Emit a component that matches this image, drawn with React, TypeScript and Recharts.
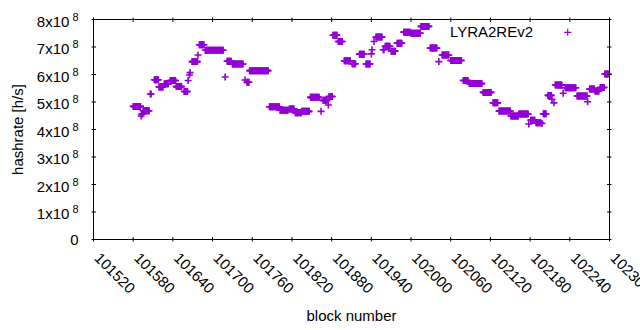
import React from 'react';
import { ScatterChart, Scatter, XAxis, YAxis, Legend } from 'recharts';

const seriesName = 'LYRA2REv2';
const COLOR = '#9400d3';
const FONT = "'Liberation Sans', Arial, sans-serif";

// runs of consecutive blocks that share the same hashrate (value in units of 1e8 h/s)
const runStart = [
  101580, 101592, 101593, 101595, 101606, 101612, 101619, 101627, 101636, 101645,
  101657, 101663, 101665, 101666, 101669, 101678, 101680, 101689, 101719, 101722,
  101730, 101749, 101752, 101756, 101786, 101802, 101816, 101825, 101835, 101848,
  101864, 101867, 101875, 101876, 101882, 101890, 101899, 101911, 101922, 101932,
  101940, 101941, 101944, 101947, 101958, 101961, 101970, 101979, 101989, 102000,
  102015, 102029, 102042, 102047, 102060, 102079, 102088, 102109, 102124, 102133,
  102151, 102163, 102178, 102181, 102189, 102198, 102200, 102207, 102213, 102216,
  102218, 102230, 102233, 102251, 102267, 102270, 102278, 102286, 102293,
];
const runEnd = [
  101591, 101592, 101594, 101604, 101607, 101618, 101625, 101633, 101644, 101653,
  101662, 101663, 101665, 101666, 101677, 101678, 101687, 101716, 101719, 101728,
  101746, 101749, 101755, 101784, 101801, 101814, 101823, 101834, 101846, 101861,
  101864, 101873, 101875, 101881, 101888, 101896, 101908, 101916, 101929, 101938,
  101940, 101941, 101944, 101956, 101959, 101968, 101976, 101986, 101999, 102014,
  102027, 102039, 102042, 102057, 102076, 102086, 102107, 102121, 102131, 102150,
  102162, 102177, 102178, 102187, 102196, 102198, 102204, 102212, 102213, 102216,
  102228, 102230, 102249, 102266, 102267, 102277, 102284, 102292, 102298,
];
const runValue = [
  4.84, 4.49, 4.56, 4.68, 5.29, 5.81, 5.55, 5.66, 5.78, 5.56,
  5.38, 5.78, 5.98, 6.07, 6.47, 6.71, 7.08, 6.88, 5.91, 6.48,
  6.38, 5.80, 5.72, 6.14, 4.83, 4.70, 4.75, 4.61, 4.66, 5.17,
  4.66, 5.06, 4.89, 5.20, 7.43, 7.20, 6.50, 6.39, 6.74, 6.38,
  6.75, 6.90, 7.20, 7.36, 6.90, 7.03, 6.85, 7.14, 7.54, 7.50,
  7.75, 6.96, 6.47, 6.71, 6.51, 5.78, 5.67, 5.35, 4.97, 4.67,
  4.49, 4.56, 4.20, 4.34, 4.25, 4.22, 4.57, 5.24, 5.10, 4.97,
  5.62, 5.32, 5.52, 5.22, 5.01, 5.47, 5.40, 5.53, 6.02,
];

const xTicks = [101520, 101580, 101640, 101700, 101760, 101820, 101880, 101940, 102000, 102060, 102120, 102180, 102240, 102300];
const yTicks = [0, 1e8, 2e8, 3e8, 4e8, 5e8, 6e8, 7e8, 8e8];
const yExponent = 8;

const data: { block: number; hashrate: number }[] = [];
runStart.forEach((s, i) => {
  for (let b = s; b <= runEnd[i]; b++) data.push({ block: b, hashrate: runValue[i] * 1e8 });
});

const TICK_LEN = 4.5;

const BottomTick = (props: any) => {
  const { x, y, payload } = props;
  const ly = y + 17.5;
  return (
    <g>
      <line x1={x} x2={x} y1={y} y2={y - TICK_LEN} stroke="#000" strokeWidth={1} />
      <text x={x} y={ly} transform={`rotate(45, ${x}, ${ly})`} textAnchor="start" fontFamily={FONT} fontSize={15} fill="#000">
        {payload.value}
      </text>
    </g>
  );
};

const TopTick = (props: any) => {
  const { x, y } = props;
  return <line x1={x} x2={x} y1={y} y2={y + TICK_LEN} stroke="#000" strokeWidth={1} />;
};

const LeftTick = (props: any) => {
  const { x, y, payload } = props;
  const m = Math.round(payload.value / Math.pow(10, yExponent));
  return (
    <g>
      <line x1={x} x2={x + TICK_LEN} y1={y} y2={y} stroke="#000" strokeWidth={1} />
      {m === 0 ? (
        <text x={x - 13} y={y + 5.3} textAnchor="end" fontFamily={FONT} fontSize={15} fill="#000">0</text>
      ) : (
        <text x={x - 13} y={y + 7} textAnchor="end" fontFamily={FONT} fontSize={15} fill="#000">
          {`${m}x10`}
          <tspan dx={3} dy={-6} fontSize={11}>{yExponent}</tspan>
        </text>
      )}
    </g>
  );
};

const RightTick = (props: any) => {
  const { x, y } = props;
  return <line x1={x} x2={x - TICK_LEN} y1={y} y2={y} stroke="#000" strokeWidth={1} />;
};

const PlusShape = (props: any) => {
  const { cx, cy } = props;
  if (cx == null || cy == null) return <g />;
  return <path d={`M${cx - 3.5},${cy}h7M${cx},${cy - 3.5}v7`} stroke={COLOR} strokeWidth={1.6} fill="none" />;
};

const NoShape = () => <g />;

const LegendContent = (props: any) => {
  const items = (props.payload || []).filter((it: any) => it.type !== 'none');
  const name = items.length ? items[0].value : seriesName;
  return (
    <svg width={140} height={24} style={{ display: 'block', overflow: 'visible' }}>
      <text x={93} y={19.3} textAnchor="end" fontFamily={FONT} fontSize={15} fill="#000">{name}</text>
      <path d="M124.2,14.3h7M127.7,10.8v7" stroke={COLOR} strokeWidth={1.2} fill="none" />
    </svg>
  );
};

const xLabel = (p: any) => {
  const vb = p.viewBox || { x: 93.5, width: 516 };
  return (
    <text x={vb.x + vb.width / 2} y={321} textAnchor="middle" fontFamily={FONT} fontSize={15} fill="#000">block number</text>
  );
};

const yLabel = (p: any) => {
  const vb = p.viewBox || { x: 0, y: 19.5, height: 220 };
  const lx = vb.x + 22.7;
  const ly = vb.y + vb.height / 2;
  return (
    <text x={lx} y={ly} transform={`rotate(-90, ${lx}, ${ly})`} textAnchor="middle" fontFamily={FONT} fontSize={15} fill="#000">hashrate [h/s]</text>
  );
};

export default function App() {
  return (
    <div style={{ position: 'absolute', left: 0, top: 0, width: 640, height: 330, background: '#fff' }}>
      <ScatterChart width={640} height={330} margin={{ top: 18.5, right: 29.5, bottom: 0, left: 0 }} style={{ fontFamily: FONT }}>
        <XAxis
          dataKey="block"
          type="number"
          domain={[101520, 102300]}
          ticks={xTicks}
          interval={0}
          height={90.5}
          tickSize={0}
          tickLine={false}
          axisLine={{ stroke: '#000' }}
          tick={<BottomTick />}
          label={xLabel}
        />
        <XAxis
          xAxisId="top"
          dataKey="block"
          orientation="top"
          type="number"
          domain={[101520, 102300]}
          ticks={xTicks}
          interval={0}
          height={1}
          tickSize={0}
          tickLine={false}
          axisLine={{ stroke: '#000' }}
          tick={<TopTick />}
        />
        <YAxis
          dataKey="hashrate"
          type="number"
          domain={[0, 8e8]}
          ticks={yTicks}
          interval={0}
          width={93.5}
          tickSize={0}
          tickLine={false}
          axisLine={{ stroke: '#000' }}
          tick={<LeftTick />}
          label={yLabel}
        />
        <YAxis
          yAxisId="right"
          dataKey="hashrate"
          orientation="right"
          type="number"
          domain={[0, 8e8]}
          ticks={yTicks}
          interval={0}
          width={1}
          tickSize={0}
          tickLine={false}
          axisLine={{ stroke: '#000' }}
          tick={<RightTick />}
        />
        <Legend
          layout="horizontal"
          verticalAlign="middle"
          align="center"
          wrapperStyle={{ position: 'absolute', left: 440, top: 18, width: 140, height: 24 }}
          content={LegendContent}
        />
        <Scatter
          xAxisId="top"
          yAxisId="right"
          data={data}
          shape={NoShape}
          legendType="none"
          isAnimationActive={false}
        />
        <Scatter name={seriesName} data={data} fill={COLOR} shape={PlusShape} isAnimationActive={false} />
      </ScatterChart>
    </div>
  );
}
